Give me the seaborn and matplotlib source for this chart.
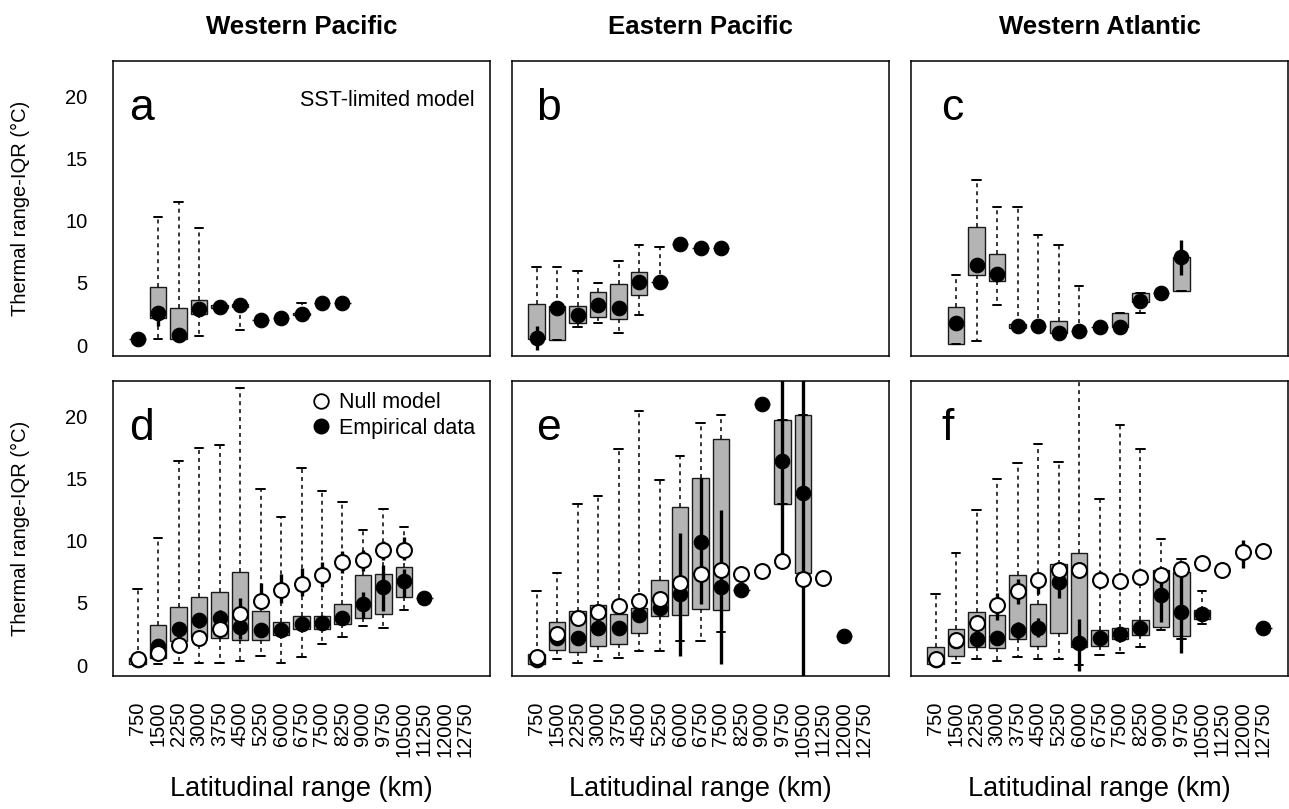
import numpy as np
import seaborn as sns
import matplotlib
matplotlib.use("Agg")
import matplotlib.pyplot as plt
from matplotlib.lines import Line2D

sns.set_style("white")
plt.rcParams['font.family'] = ['Liberation Sans', 'DejaVu Sans']
plt.rcParams['text.color'] = 'black'
plt.rcParams['axes.labelcolor'] = 'black'
plt.rcParams['xtick.color'] = 'black'
plt.rcParams['ytick.color'] = 'black'

N = np.nan

ranges = ["750", "1500", "2250", "3000", "3750", "4500", "5250", "6000",
          "6750", "7500", "8250", "9000", "9750", "10500", "11250",
          "12000", "12750"]
regions = ["Western Pacific", "Eastern Pacific", "Western Atlantic"]


def full(vals):
    # missing latitudinal classes are left empty
    return list(vals) + [N] * (len(ranges) - len(vals))


# a: Western Pacific, SST-limited model
a_q1 = full([0.46, 2.16, 0.5, 2.5, 2.95, 3.1, 2.0, 2.15, 2.4, 3.37, 3.37])
a_q3 = full([0.46, 4.64, 3.0, 3.64, 3.2, 3.3, 2.0, 2.15, 2.55, 3.37, 3.37])
a_wlo = full([0.46, 0.46, 0.5, 0.75, 2.95, 1.2, 2.0, 2.15, 2.4, 3.37, 3.37])
a_whi = full([0.46, 10.3, 11.5, 9.43, 3.2, 3.4, 2.0, 2.15, 3.37, 3.37, 3.37])
a_emp = full([0.46, 2.56, 0.8, 2.88, 3.1, 3.23, 2.0, 2.15, 2.48, 3.37, 3.37])
a_emp_err = {1: (1.5, 2.6)}

# b: Eastern Pacific, SST-limited model
b_q1 = full([0.49, 0.40, 1.75, 2.29, 2.07, 4.04, 5.04, 8.17, 7.82, 7.82])
b_q3 = full([3.29, 3.18, 3.15, 4.26, 4.9, 5.85, 5.04, 8.17, 7.82, 7.82])
b_wlo = full([0.49, 0.40, 1.48, 1.75, 0.94, 2.43, 5.04, 8.17, 7.82, 7.82])
b_whi = full([6.3, 6.3, 5.96, 5.0, 6.8, 8.03, 7.92, 8.17, 7.82, 7.82])
b_emp = full([0.6, 2.96, 2.4, 3.23, 2.96, 5.04, 5.04, 8.17, 7.82, 7.82])
b_emp_err = {0: (-0.4, 1.54)}

# c: Western Atlantic, SST-limited model
c_q1 = full([N, 0.05, 5.63, 5.17, 1.35, 1.54, 0.94, 1.13, 1.48, 1.48, 3.5, 4.23, 4.39])
c_q3 = full([N, 3.1, 9.51, 7.36, 1.7, 1.54, 1.97, 1.13, 1.48, 2.56, 4.18, 4.23, 7.06])
c_wlo = full([N, 0.05, 0.35, 3.23, 1.35, 1.54, 0.94, 1.13, 1.48, 1.48, 2.56, 4.23, 4.39])
c_whi = full([N, 5.63, 13.3, 11.1, 11.1, 8.87, 8.09, 4.72, 1.48, 2.56, 4.18, 4.23, 7.06])
c_emp = full([N, 1.75, 6.47, 5.74, 1.54, 1.54, 0.94, 1.13, 1.48, 1.48, 3.56, 4.23, 7.09])
c_emp_err = {12: (5.66, 8.49)}

# d: Western Pacific, null model
d_q1 = full([0.1, 0.6, 1.94, 2.26, 2.2, 2.0, 2.0, 2.39, 2.88, 2.93, 3.28, 3.76, 4.14, 5.48, 5.38])
d_q3 = full([0.6, 3.2, 4.68, 5.51, 5.89, 7.53, 4.35, 3.47, 3.95, 3.95, 4.89, 7.23, 7.37, 7.93, 5.38])
d_wlo = full([0.0, 0.1, 0.2, 0.2, 0.2, 0.35, 0.73, 0.19, 0.65, 1.72, 2.26, 3.15, 3.0, 4.44, 5.38])
d_whi = full([6.16, 10.27, 16.45, 17.47, 17.74, 22.3, 14.2, 11.9, 15.86, 14.03, 13.15, 10.86, 12.6, 11.16, 5.38])
d_emp = full([0.4, 1.53, 2.88, 3.6, 3.76, 3.06, 2.8, 2.82, 3.28, 3.41, 3.76, 4.95, 6.29, 6.77, 5.38])
d_emp_err = {3: (3.0, 4.2), 4: (3.1, 4.4), 5: (2.07, 5.4), 11: (3.8, 5.9),
             12: (4.35, 8.1), 13: (5.5, 7.7)}
d_null = full([0.46, 1.0, 1.59, 2.15, 2.88, 4.09, 5.19, 6.05, 6.56, 7.26, 8.28, 8.44, 9.27, 9.27])
d_null_err = {6: (4.5, 6.6), 7: (5.0, 7.3), 8: (5.6, 7.8), 9: (6.3, 8.3),
              10: (7.4, 9.2), 11: (7.6, 9.3), 12: (8.5, 10.0), 13: (8.5, 10.3)}

# e: Eastern Pacific, null model
e_q1 = full([0.05, 1.18, 1.08, 1.53, 1.67, 2.6, 3.95, 4.03, 4.54, 4.4, 6.02, 21.0, 12.97, 7.42, N, 2.34])
e_q3 = full([0.86, 3.49, 4.35, 4.81, 4.14, 4.6, 6.85, 12.74, 15.1, 18.2, 6.02, 21.0, 19.76, 20.16, N, 2.34])
e_wlo = full([0.0, 0.46, 0.19, 0.32, 0.59, 1.13, 1.13, 1.94, 1.94, 2.69, 6.02, 21.0, 12.97, 7.42, N, 2.34])
e_whi = full([5.94, 7.42, 13.0, 13.58, 17.37, 20.5, 14.9, 16.83, 19.46, 20.13, 6.02, 21.0, 19.76, 20.16, N, 2.34])
e_emp = full([0.4, 2.2, 2.15, 2.96, 3.01, 4.03, 4.62, 5.7, 9.95, 6.32, 6.02, 21.0, 16.45, 13.82, N, 2.34])
e_emp_err = {1: (1.8, 3.0), 7: (0.73, 10.67), 8: (4.9, 15.1), 9: (0.05, 12.5),
             12: (8.39, 30), 13: (-2, 30)}
e_null = full([0.67, 2.53, 3.82, 4.3, 4.76, 5.16, 5.3, 6.59, 7.31, 7.63, 7.31, 7.58, 8.39, 6.96, 6.99])
e_null_err = {11: (7.2, 7.9)}

# f: Western Atlantic, null model
f_q1 = full([0.05, 0.73, 1.48, 1.34, 2.07, 1.53, 2.58, 1.45, 1.53, 2.12, 2.42, 3.06, 2.34, 3.68, N, N, 2.96])
f_q3 = full([1.45, 2.93, 4.27, 4.0, 7.23, 4.89, 8.12, 9.0, 2.8, 2.96, 3.6, 7.69, 7.5, 4.44, N, N, 2.96])
f_wlo = full([0.0, 0.2, 0.46, 0.32, 0.67, 0.51, 0.51, 0.0, 0.81, 1.0, 1.45, 2.8, 2.12, 3.33, N, N, 2.96])
f_whi = full([5.75, 9.0, 12.53, 14.97, 16.26, 17.8, 16.32, 25.0, 13.36, 19.33, 17.39, 10.19, 8.58, 5.97, N, N, 2.96])
f_emp = full([0.4, 1.9, 2.12, 2.2, 2.8, 2.96, 6.69, 1.8, 2.2, 2.53, 3.01, 5.65, 4.3, 4.09, N, N, 2.96])
f_emp_err = {4: (2.1, 3.5), 5: (2.3, 3.8), 6: (5.4, 7.9), 7: (-0.5, 3.68),
             11: (3.5, 7.3), 12: (1.0, 7.3)}
f_null = [0.46, 1.99, 3.41, 4.84, 5.97, 6.83, 7.66, 7.63, 6.83, 6.77, 7.12, 7.26, 7.72, 8.25, 7.63, 9.11, 9.19]
f_null_err = {3: (3.6, 5.8), 4: (4.9, 6.9), 5: (5.7, 7.4), 6: (7.2, 8.3), 7: (7.0, 8.3),
              8: (6.3, 7.6), 9: (6.3, 7.4), 10: (6.6, 7.6), 14: (7.3, 8.2), 15: (7.85, 10.1)}

panels = [
    ("a", a_q1, a_q3, a_wlo, a_whi, a_emp, a_emp_err, None, None),
    ("b", b_q1, b_q3, b_wlo, b_whi, b_emp, b_emp_err, None, None),
    ("c", c_q1, c_q3, c_wlo, c_whi, c_emp, c_emp_err, None, None),
    ("d", d_q1, d_q3, d_wlo, d_whi, d_emp, d_emp_err, d_null, d_null_err),
    ("e", e_q1, e_q3, e_wlo, e_whi, e_emp, e_emp_err, e_null, e_null_err),
    ("f", f_q1, f_q3, f_wlo, f_whi, f_emp, f_emp_err, f_null, f_null_err),
]

BOX_GREY = "#b4b4b4"
pos_all = np.arange(len(ranges))


def draw_panel(ax, q1, q3, wlo, whi, emp, emp_err, null, null_err):
    stats, pos = [], []
    for i in range(len(ranges)):
        if np.isnan(q1[i]):
            continue
        stats.append(dict(med=q1[i], q1=q1[i], q3=q3[i],
                          whislo=wlo[i], whishi=whi[i], fliers=[]))
        pos.append(i)
    ax.bxp(stats, positions=pos, widths=0.82, patch_artist=True,
           showfliers=False, manage_ticks=False, capwidths=0.4,
           boxprops=dict(facecolor=BOX_GREY, edgecolor="#1a1a1a", linewidth=1.0),
           whiskerprops=dict(color="black", linewidth=1.1, linestyle=(0, (2.6, 2.6))),
           capprops=dict(color="black", linewidth=1.4),
           medianprops=dict(linewidth=0), zorder=2)

    for i, (lo, hi) in emp_err.items():
        ax.vlines(i, lo, hi, color="black", linewidth=2.4, zorder=3)
    sns.scatterplot(x=pos_all, y=emp, ax=ax, color="black", edgecolor="black",
                    s=110, linewidth=0.8, zorder=4, legend=False)
    if null is not None:
        for i, (lo, hi) in null_err.items():
            ax.vlines(i, lo, hi, color="black", linewidth=2.4, zorder=5)
        sns.scatterplot(x=pos_all, y=null, ax=ax, color="white", edgecolor="black",
                        s=115, linewidth=1.5, zorder=6, legend=False)


fig = plt.figure(figsize=(12.89, 8.09), dpi=100)
lefts = [113 / 1289, 512 / 1289, 911 / 1289]
bottoms = [1 - 356 / 809, 1 - 676 / 809]
width, height = 377 / 1289, 295 / 809
letter_x = [0.042, 0.064, 0.08]

for k, (letter, q1, q3, wlo, whi, emp, emp_err, null, null_err) in enumerate(panels):
    row, col = divmod(k, 3)
    ax = fig.add_axes([lefts[col], bottoms[row], width, height])
    draw_panel(ax, q1, q3, wlo, whi, emp, emp_err, null, null_err)

    ax.set_xlim(-1.2, 17.2)
    ax.set_ylim(-0.88, 22.88)
    ax.set_xticks(pos_all)
    ax.set_yticks([0, 5, 10, 15, 20])
    ax.tick_params(axis="both", direction="out", length=9.5, width=1.0,
                   colors="black", labelsize=14.5)
    ax.tick_params(axis="y", pad=9)
    ax.tick_params(axis="x", pad=9)
    if row == 1:
        ax.set_xticklabels(ranges, rotation=90)
    else:
        ax.set_xticklabels([])
    if col != 0:
        ax.set_yticklabels([])
    ax.set_xlabel("")
    ax.set_ylabel("")
    for sp in ax.spines.values():
        sp.set_visible(True)
        sp.set_color("black")
        sp.set_linewidth(1.1)

    ax.text(letter_x[col], 0.80, letter, transform=ax.transAxes, fontsize=32,
            ha="left", va="baseline")
    if letter == "a":
        ax.text(0.958, 0.848, "SST-limited model", transform=ax.transAxes,
                fontsize=15.5, ha="right", va="baseline")
    if letter == "d":
        handles = [
            Line2D([], [], marker="o", linestyle="", markersize=10.5,
                   markerfacecolor="white", markeredgecolor="black", markeredgewidth=1.3),
            Line2D([], [], marker="o", linestyle="", markersize=10.5,
                   markerfacecolor="black", markeredgecolor="black"),
        ]
        ax.legend(handles, ["Null model", "Empirical data"], loc="upper right",
                  bbox_to_anchor=(0.995, 1.005), frameon=False, fontsize=15.5,
                  handletextpad=0.35, labelspacing=0.2, handlelength=1.0,
                  borderaxespad=0.2)

for col, name in enumerate(regions):
    cx = lefts[col] + width / 2
    fig.text(cx, 0.967, name, ha="center", va="center", fontsize=18.5,
             fontweight="bold")
    fig.text(cx, 0.025, "Latitudinal range (km)", ha="center", va="center",
             fontsize=19.5)

for row in range(2):
    cy = bottoms[row] + height / 2
    fig.text(0.0155, cy, "Thermal range-IQR (\u00b0C)", rotation=90,
             ha="center", va="center", fontsize=14.5)

fig.savefig("out.png", dpi=100)
